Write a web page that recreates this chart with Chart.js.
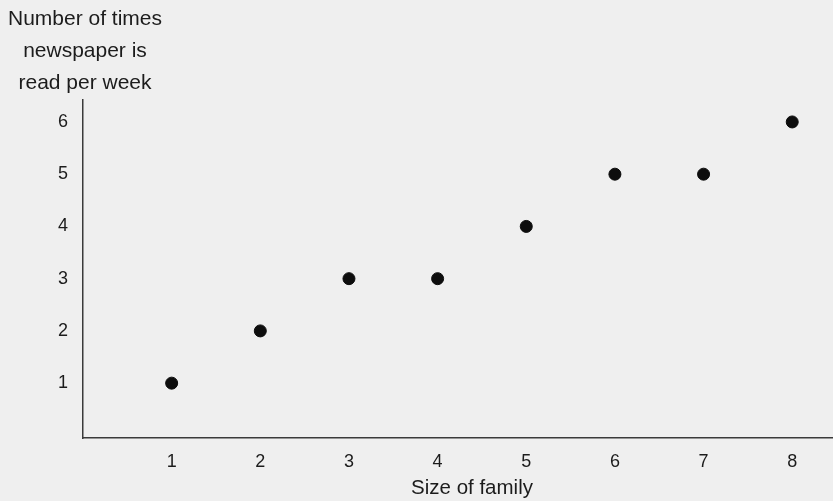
<!DOCTYPE html>
<html>
<head>
<meta charset="utf-8">
<script src="https://cdn.jsdelivr.net/npm/chart.js@4/dist/chart.umd.min.js"></script>
<style>
  html, body { margin: 0; padding: 0; background: #efefef; overflow: hidden; }
  #wrap { width: 833px; height: 501px; position: relative; }
</style>
</head>
<body>
<div id="wrap"><canvas id="chart"></canvas></div>
<script>
const familySize = [1, 2, 3, 4, 5, 6, 7, 8];
const timesRead = [1, 2, 3, 3, 4, 5, 5, 6];
const xTicks = [1, 2, 3, 4, 5, 6, 7, 8];
const yTicks = [1, 2, 3, 4, 5, 6];
const yTitleLines = ["Number of times", "newspaper is", "read per week"];
const xTitle = "Size of family";

const ink = "#1c1c1c";
const font = "'Liberation Sans', Arial, sans-serif";

const backdrop = {
  id: "backdrop",
  beforeDraw(chart) {
    const { ctx, width, height } = chart;
    ctx.save();
    ctx.fillStyle = "#efefef";
    ctx.fillRect(0, 0, width, height);
    ctx.restore();
  },
};

// axis titles sit off-centre in the original, so draw them by hand
const titles = {
  id: "titles",
  afterDraw(chart) {
    const { ctx } = chart;
    ctx.save();
    ctx.fillStyle = ink;
    ctx.textAlign = "center";
    ctx.textBaseline = "middle";
    ctx.font = `21px ${font}`;
    yTitleLines.forEach((line, i) => ctx.fillText(line, 85, 19 + i * 32));
    ctx.font = `20.5px ${font}`;
    ctx.fillText(xTitle, 472, 488);
    ctx.restore();
  },
};

new Chart(document.querySelector("#chart"), {
  type: "scatter",
  data: {
    datasets: [{
      data: familySize.map((x, i) => ({ x, y: timesRead[i] })),
      backgroundColor: "#0d0d0d",
      borderColor: "#0d0d0d",
      pointRadius: 6,
      pointHoverRadius: 6,
    }],
  },
  options: {
    responsive: true,
    maintainAspectRatio: false,
    animation: false,
    layout: { autoPadding: false, padding: { top: 100, right: 0, bottom: 0, left: 0 } },
    plugins: { legend: { display: false }, tooltip: { enabled: false } },
    scales: {
      x: {
        type: "linear",
        min: 0,
        max: 8.46,
        afterBuildTicks: (axis) => { axis.ticks = xTicks.map((value) => ({ value })); },
        afterFit: (axis) => { axis.height = 63; },
        grid: { display: false, drawTicks: false },
        border: { display: true, color: "#3a3a3a", width: 1.5 },
        ticks: { color: ink, font: { family: font, size: 18 }, padding: 13, maxRotation: 0 },
      },
      y: {
        type: "linear",
        min: -0.05,
        max: 6.42,
        afterBuildTicks: (axis) => { axis.ticks = yTicks.map((value) => ({ value })); },
        afterFit: (axis) => { axis.width = 83; },
        grid: { display: false, drawTicks: false },
        border: { display: true, color: "#3a3a3a", width: 1.5 },
        ticks: { color: ink, font: { family: font, size: 18 }, padding: 15 },
      },
    },
  },
  plugins: [backdrop, titles],
});
</script>
</body>
</html>
